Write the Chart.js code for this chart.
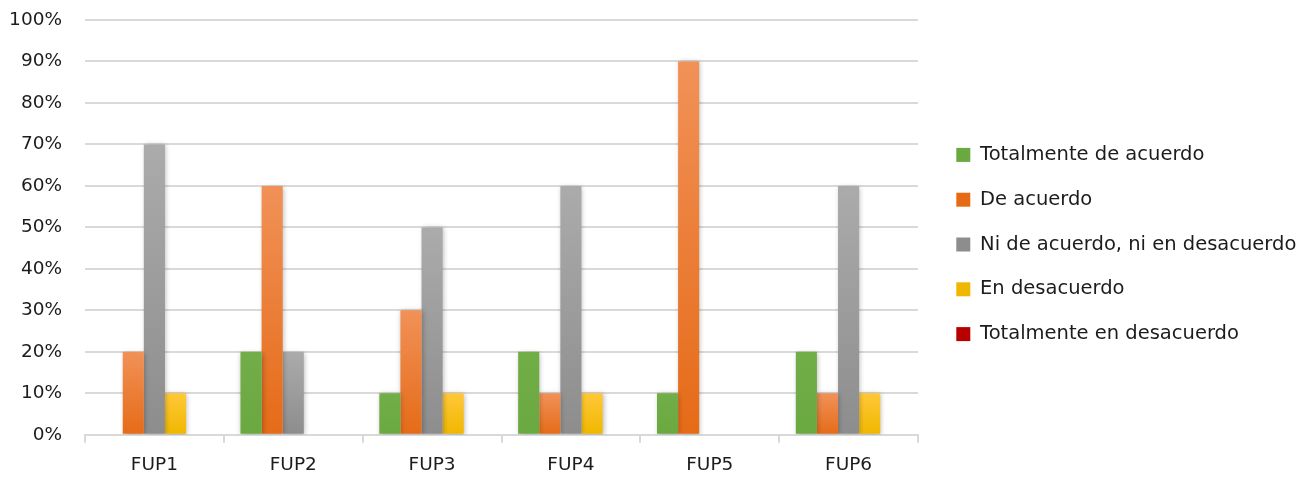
<!DOCTYPE html>
<html>
<head>
<meta charset="utf-8">
<script src="https://cdn.jsdelivr.net/npm/chart.js@4.4.1/dist/chart.umd.min.js"></script>
<style>
  html, body { margin: 0; padding: 0; background: #ffffff; }
  #wrap { width: 1303px; height: 478px; position: relative; }
</style>
</head>
<body>
<div id="wrap"><canvas id="chart" width="1303" height="478"></canvas></div>
<script>
// Survey items
const categories = ['FUP1', 'FUP2', 'FUP3', 'FUP4', 'FUP5', 'FUP6'];

// Share of answers per item (%)
const totalmenteDeAcuerdo = [0, 20, 10, 20, 10, 20];
const deAcuerdo = [20, 60, 30, 10, 90, 10];
const niDeAcuerdoNiEnDesacuerdo = [70, 20, 50, 60, 0, 60];
const enDesacuerdo = [10, 0, 10, 10, 0, 10];
const totalmenteEnDesacuerdo = [0, 0, 0, 0, 0, 0];

const seriesNames = [
  'Totalmente de acuerdo',
  'De acuerdo',
  'Ni de acuerdo, ni en desacuerdo',
  'En desacuerdo',
  'Totalmente en desacuerdo'
];

// Axis tick values (%)
const yTicks = [0, 10, 20, 30, 40, 50, 60, 70, 80, 90, 100];

// Gradient stops for each series: [top, bottom]
const seriesShades = [
  ['#72ae48', '#6aa840'],
  ['#f19158', '#e56b17'],
  ['#ababab', '#8d8d8d'],
  ['#ffc837', '#f0b700'],
  ['#c40202', '#b80000']
];

function barGradient(shades) {
  return function (ctx) {
    const chart = ctx.chart;
    if (ctx.type !== 'data' || !chart.chartArea) return shades[1];
    const y = chart.scales.y;
    const v = ctx.raw || 0;
    const top = y.getPixelForValue(v);
    const bottom = y.getPixelForValue(0);
    if (!(bottom - top > 1)) return shades[1];
    const g = chart.ctx.createLinearGradient(0, top, 0, bottom);
    g.addColorStop(0, shades[0]);
    g.addColorStop(1, shades[1]);
    return g;
  };
}

const seriesValues = [
  totalmenteDeAcuerdo,
  deAcuerdo,
  niDeAcuerdoNiEnDesacuerdo,
  enDesacuerdo,
  totalmenteEnDesacuerdo
];

const datasets = seriesNames.map((name, i) => ({
  label: name,
  data: seriesValues[i],
  backgroundColor: barGradient(seriesShades[i]),
  borderWidth: 0,
  categoryPercentage: 0.76,
  barPercentage: 1.0
}));

// Soft drop shadow behind the bars
const barShadow = {
  id: 'barShadow',
  beforeDatasetsDraw(chart) {
    const c = chart.ctx;
    c.save();
    c.shadowColor = 'rgba(0,0,0,0.28)';
    c.shadowBlur = 5;
    c.shadowOffsetX = 1;
    c.shadowOffsetY = 1;
  },
  afterDatasetsDraw(chart) {
    chart.ctx.restore();
  }
};

// Fixed legend column width, and offset of its entries from the plot area
const LEGEND_WIDTH = 380;
const LEGEND_SHIFT_X = 13;
const LEGEND_SHIFT_Y = -9;
const legendBox = {
  id: 'legendBox',
  beforeLayout(chart) {
    const lg = chart.legend;
    if (lg && !lg._fixedWidth) {
      const fit = lg.fit;
      lg.fit = function () {
        fit.call(this);
        this.width = LEGEND_WIDTH;
      };
      lg._fixedWidth = true;
    }
  },
  afterLayout(chart) {
    const lg = chart.legend;
    if (lg) {
      lg.left += LEGEND_SHIFT_X;
      lg.right += LEGEND_SHIFT_X;
      lg.top += LEGEND_SHIFT_Y;
      lg.bottom += LEGEND_SHIFT_Y;
    }
  }
};

const FONT = 'DejaVu Sans';
const TEXT = '#1c1c1c';

new Chart(document.getElementById('chart'), {
  type: 'bar',
  data: { labels: categories, datasets },
  plugins: [barShadow, legendBox],
  options: {
    responsive: false,
    animation: false,
    layout: { padding: { top: 20, left: 10, right: 5, bottom: -9 } },
    plugins: {
      tooltip: { enabled: false },
      legend: {
        position: 'right',
        align: 'center',
        labels: {
          font: { family: FONT, size: 19.5 },
          color: TEXT,
          boxWidth: 14,
          boxHeight: 14,
          padding: 25.3,
          generateLabels(chart) {
            return chart.data.datasets.map((ds, i) => ({
              text: ds.label,
              fillStyle: seriesShades[i][1],
              strokeStyle: seriesShades[i][1],
              lineWidth: 0,
              hidden: false,
              datasetIndex: i,
              fontColor: TEXT
            }));
          }
        }
      }
    },
    scales: {
      x: {
        grid: {
          drawOnChartArea: false,
          drawTicks: true,
          tickLength: 8,
          color: '#d9d9d9',
          lineWidth: 2,
          offset: true
        },
        border: { display: true, color: '#d9d9d9', width: 2 },
        ticks: {
          font: { family: FONT, size: 18.5 },
          color: TEXT,
          padding: 11
        }
      },
      y: {
        min: 0,
        max: 100,
        afterBuildTicks(axis) {
          axis.ticks = yTicks.map(v => ({ value: v }));
        },
        afterFit(axis) {
          axis.width = 75;
          axis.paddingTop = 0;
          axis.paddingBottom = 0;
        },
        grid: {
          color: '#d9d9d9',
          lineWidth: 2,
          drawTicks: false
        },
        border: { display: false },
        ticks: {
          font: { family: FONT, size: 18.5 },
          color: TEXT,
          padding: 23,
          callback: v => v + '%'
        }
      }
    }
  }
});
</script>
</body>
</html>
